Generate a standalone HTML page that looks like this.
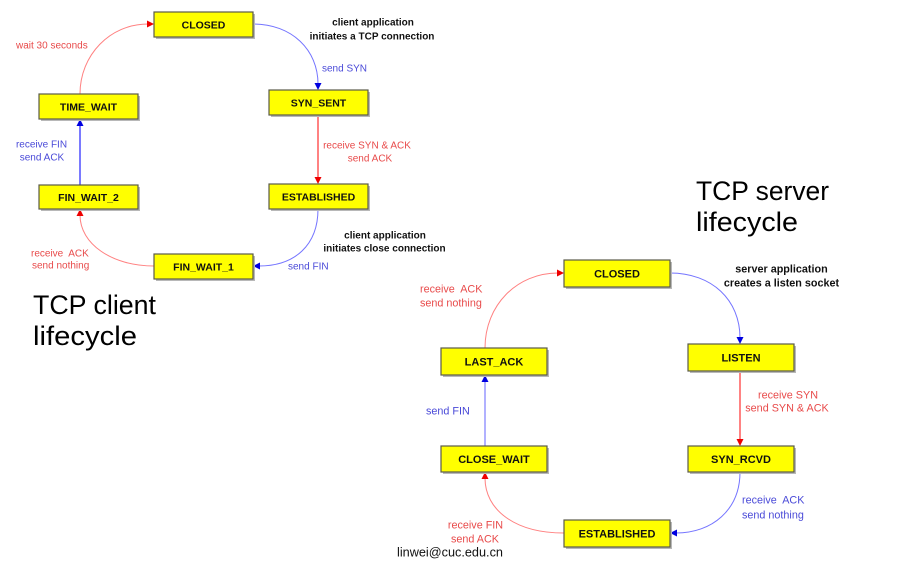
<!DOCTYPE html>
<html><head><meta charset="utf-8"><style>
html,body{margin:0;padding:0;background:#fff;width:910px;height:582px;overflow:hidden}
svg{display:block}
text{font-family:"Liberation Sans",Arial,sans-serif;white-space:pre}
.bx{fill:#ffff00;stroke:#5a5a4a;stroke-width:1.2}
.sh{fill:#b8b8b8}
.bt{font-weight:bold;font-size:10.5px;fill:#111;text-anchor:middle}
.bt2{font-weight:bold;font-size:11px;fill:#111;text-anchor:middle}
.r{fill:#e84a4a;font-size:10px}
.b{fill:#4a4ad8;font-size:10px}
.r2{fill:#e84a4a;font-size:10.8px}
.b2{fill:#4a4ad8;font-size:10.8px}
.k{fill:#111;font-weight:bold;font-size:10px;text-anchor:middle}
.k2{fill:#111;font-weight:bold;font-size:10.8px;text-anchor:middle}
.t{fill:#000;font-size:26.5px}
</style></head><body>
<svg width="910" height="582" viewBox="0 0 910 582" xmlns="http://www.w3.org/2000/svg">
<rect width="910" height="582" fill="#fff"/>

<!-- ===== CLIENT connectors ===== -->
<path d="M253,24 C292,24 318,50 318,84" fill="none" stroke="#7474ff" stroke-width="1"/>
<polygon points="314.5,83 321.5,83 318,90" fill="#0000e0"/>
<line x1="318" y1="115" x2="318" y2="178" stroke="#ff3030" stroke-width="1.2"/>
<polygon points="314.5,177 321.5,177 318,184" fill="#ee0000"/>
<path d="M318,209 C318,245 295,266 259,266" fill="none" stroke="#7474ff" stroke-width="1"/>
<polygon points="260,262.5 260,269.5 253,266" fill="#0000e0"/>
<path d="M154,266 C112,266 80,244 80,215" fill="none" stroke="#ff8080" stroke-width="1"/>
<polygon points="76.5,216 83.5,216 80,209" fill="#ee0000"/>
<line x1="80" y1="185" x2="80" y2="125" stroke="#2020ff" stroke-width="1.2"/>
<polygon points="76.5,126 83.5,126 80,119" fill="#0000e0"/>
<path d="M80,94 C80,55 110,24 148,24" fill="none" stroke="#ff8080" stroke-width="1"/>
<polygon points="147,20.5 147,27.5 154,24" fill="#ee0000"/>

<!-- ===== CLIENT boxes ===== -->
<rect class="sh" x="156" y="14" width="99" height="25"/>
<rect class="bx" x="154" y="12" width="99" height="25"/>
<text class="bt" x="203.5" y="28.5">CLOSED</text>

<rect class="sh" x="271" y="92" width="99" height="25"/>
<rect class="bx" x="269" y="90" width="99" height="25"/>
<text class="bt" x="318.5" y="106.5">SYN_SENT</text>

<rect class="sh" x="41" y="96" width="99" height="25"/>
<rect class="bx" x="39" y="94" width="99" height="25"/>
<text class="bt" x="88.5" y="110.5">TIME_WAIT</text>

<rect class="sh" x="41" y="187" width="99" height="24"/>
<rect class="bx" x="39" y="185" width="99" height="24"/>
<text class="bt" x="88.5" y="201">FIN_WAIT_2</text>

<rect class="sh" x="271" y="186" width="99" height="25"/>
<rect class="bx" x="269" y="184" width="99" height="25"/>
<text class="bt" x="318.5" y="200.5">ESTABLISHED</text>

<rect class="sh" x="156" y="256" width="99" height="25"/>
<rect class="bx" x="154" y="254" width="99" height="25"/>
<text class="bt" x="203.5" y="270.5">FIN_WAIT_1</text>

<!-- ===== CLIENT labels ===== -->
<text class="r" x="16" y="48.5">wait 30 seconds</text>
<text class="b" x="322" y="71.5">send SYN</text>
<text class="k" x="373" y="25.5">client application</text>
<text class="k" x="372" y="39.5">initiates a TCP connection</text>
<text class="r" x="367" y="148.5" text-anchor="middle">receive SYN &amp; ACK</text>
<text class="r" x="370" y="161.5" text-anchor="middle">send ACK</text>
<text class="b" x="41.5" y="147.5" text-anchor="middle">receive FIN</text>
<text class="b" x="42" y="160.5" text-anchor="middle">send ACK</text>
<text class="r" x="31" y="256.5">receive  ACK</text>
<text class="r" x="32" y="268.5">send nothing</text>
<text class="k" x="385" y="238.5">client application</text>
<text class="k" x="384.5" y="251.5">initiates close connection</text>
<text class="b" x="288" y="269.5">send FIN</text>

<text class="t" x="33" y="314" textLength="123" lengthAdjust="spacingAndGlyphs">TCP client</text>
<text class="t" x="33" y="345" textLength="104" lengthAdjust="spacingAndGlyphs">lifecycle</text>

<!-- ===== SERVER connectors ===== -->
<path d="M670,273 C712,273 740,300 740,338" fill="none" stroke="#7474ff" stroke-width="1"/>
<polygon points="736.5,337 743.5,337 740,344" fill="#0000e0"/>
<line x1="740" y1="371" x2="740" y2="440" stroke="#ff3030" stroke-width="1.2"/>
<polygon points="736.5,439 743.5,439 740,446" fill="#ee0000"/>
<path d="M740,472 C740,510 712,533 676,533" fill="none" stroke="#7474ff" stroke-width="1"/>
<polygon points="677,529.5 677,536.5 670,533" fill="#0000e0"/>
<path d="M564,533 C515,533 485,510 485,478" fill="none" stroke="#ff8080" stroke-width="1"/>
<polygon points="481.5,479 488.5,479 485,472" fill="#ee0000"/>
<line x1="485" y1="446" x2="485" y2="381" stroke="#9090ff" stroke-width="1.4"/>
<polygon points="481.5,382 488.5,382 485,375" fill="#0000e0"/>
<path d="M485,348 C485,305 517,273 558,273" fill="none" stroke="#ff8080" stroke-width="1"/>
<polygon points="557,269.5 557,276.5 564,273" fill="#ee0000"/>

<!-- ===== SERVER boxes ===== -->
<rect class="sh" x="566" y="262" width="106" height="27"/>
<rect class="bx" x="564" y="260" width="106" height="27"/>
<text class="bt2" x="617" y="277.5">CLOSED</text>

<rect class="sh" x="690" y="346" width="106" height="27"/>
<rect class="bx" x="688" y="344" width="106" height="27"/>
<text class="bt2" x="741" y="361.5">LISTEN</text>

<rect class="sh" x="443" y="350" width="106" height="27"/>
<rect class="bx" x="441" y="348" width="106" height="27"/>
<text class="bt2" x="494" y="365.5">LAST_ACK</text>

<rect class="sh" x="443" y="448" width="106" height="26"/>
<rect class="bx" x="441" y="446" width="106" height="26"/>
<text class="bt2" x="494" y="463">CLOSE_WAIT</text>

<rect class="sh" x="690" y="448" width="106" height="26"/>
<rect class="bx" x="688" y="446" width="106" height="26"/>
<text class="bt2" x="741" y="463">SYN_RCVD</text>

<rect class="sh" x="566" y="522" width="106" height="27"/>
<rect class="bx" x="564" y="520" width="106" height="27"/>
<text class="bt2" x="617" y="537.5">ESTABLISHED</text>

<!-- ===== SERVER labels ===== -->
<text class="r2" x="420" y="292.5">receive  ACK</text>
<text class="r2" x="420" y="306.5">send nothing</text>
<text class="k2" x="781.5" y="272.5">server application</text>
<text class="k2" x="781.5" y="286.5">creates a listen socket</text>
<text class="r2" x="788" y="398.5" text-anchor="middle">receive SYN</text>
<text class="r2" x="787" y="411.5" text-anchor="middle">send SYN &amp; ACK</text>
<text class="b2" x="426" y="414.5">send FIN</text>
<text class="b2" x="742" y="503.5">receive  ACK</text>
<text class="b2" x="742" y="518.5">send nothing</text>
<text class="r2" x="475.5" y="528.5" text-anchor="middle">receive FIN</text>
<text class="r2" x="475" y="542.5" text-anchor="middle">send ACK</text>
<text x="397" y="556.5" style="font-size:12.7px;fill:#111">linwei@cuc.edu.cn</text>

<text class="t" x="696" y="200" textLength="133" lengthAdjust="spacingAndGlyphs">TCP server</text>
<text class="t" x="696" y="231" textLength="102" lengthAdjust="spacingAndGlyphs">lifecycle</text>
</svg>
</body></html>
